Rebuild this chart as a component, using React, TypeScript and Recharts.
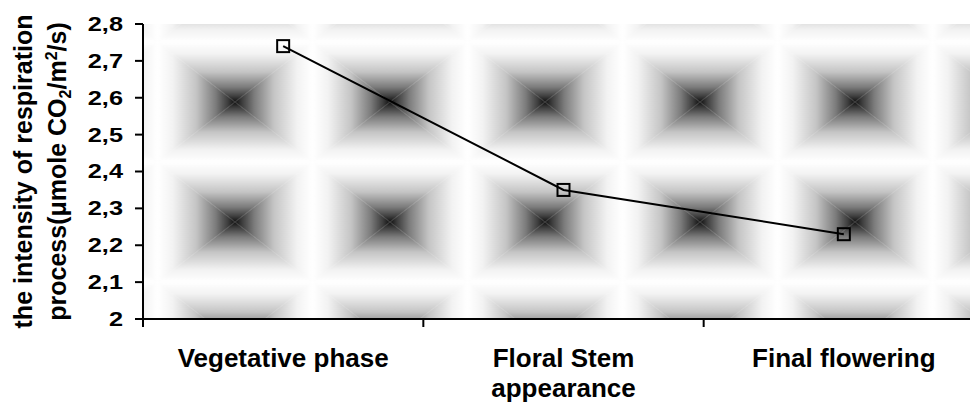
import { LineChart, Line, XAxis, YAxis, CartesianGrid } from 'recharts'

// ─── Data ─────────────────────────────────────────────────────────────────────

const phases = ['Vegetative phase', 'Floral Stem appearance', 'Final flowering']
const respiration = [2.74, 2.35, 2.23]
const yTicks = [2, 2.1, 2.2, 2.3, 2.4, 2.5, 2.6, 2.7, 2.8]

const chartData = phases.map((phase, i) => ({ phase, value: respiration[i] }))

const FONT = '"Liberation Sans", Arial, sans-serif'
const X_TICK_SIZE = 8
const X_TICK_MARGIN = 22

// ─── Ticks / labels ───────────────────────────────────────────────────────────

const fmt = (v: number) => String(v).replace('.', ',')

// greedy word wrap, Excel breaks the long category in two
function wrap(label: string, maxChars: number) {
  const lines: string[] = []
  let cur = ''
  for (const w of label.split(' ')) {
    if (cur && (cur + ' ' + w).length > maxChars) {
      lines.push(cur)
      cur = w
    } else {
      cur = cur ? cur + ' ' + w : w
    }
  }
  if (cur) lines.push(cur)
  return lines
}

function YTick({ x, y, payload }: any) {
  return (
    <text
      x={x}
      y={y}
      dy="0.355em"
      textAnchor="end"
      fontSize={19.5}
      fontWeight={700}
      fontFamily={FONT}
      fill="#000"
      transform={`translate(${x} 0) scale(1.3 1) translate(${-x} 0)`}
    >
      {fmt(payload.value)}
    </text>
  )
}

function XTick({ x, y, payload, index, width, visibleTicksCount }: any) {
  // tick marks sit between the categories, labels in the middle
  const half = width / visibleTicksCount / 2
  const axisY = y - X_TICK_SIZE - X_TICK_MARGIN
  const lines = wrap(payload.value, 16)
  return (
    <g>
      <line x1={x - half} x2={x - half} y1={axisY} y2={axisY + X_TICK_SIZE} stroke="#000" strokeWidth={2} />
      {index === visibleTicksCount - 1 && (
        <line x1={x + half} x2={x + half} y1={axisY} y2={axisY + X_TICK_SIZE} stroke="#000" strokeWidth={2} />
      )}
      <text x={x} y={y} textAnchor="middle" fontSize={26} fontWeight={700} fontFamily={FONT} fill="#000">
        {lines.map((l, i) => (
          <tspan key={i} x={x} dy={i === 0 ? '0.71em' : '1.12em'}>
            {l}
          </tspan>
        ))}
      </text>
    </g>
  )
}

function YLabel({ viewBox }: any) {
  const cy = viewBox.y + viewBox.height / 2
  const x1 = viewBox.x + 32
  const x2 = viewBox.x + 66
  const common = { fontSize: 25, fontWeight: 700, fontFamily: FONT, fill: '#000', textAnchor: 'middle' as const }
  return (
    <g>
      <text x={x1} y={cy} transform={`rotate(-90 ${x1} ${cy})`} {...common}>
        the intensity of respiration
      </text>
      <text x={x2} y={cy} transform={`rotate(-90 ${x2} ${cy})`} {...common}>
        <tspan>process(μmole CO</tspan>
        <tspan fontSize={16} dy={5}>2</tspan>
        <tspan dy={-5}>/m</tspan>
        <tspan fontSize={16} dy={-9}>2</tspan>
        <tspan dy={9}>/s)</tspan>
      </text>
    </g>
  )
}

function SquareDot({ cx, cy }: any) {
  return <rect x={cx - 6} y={cy - 6} width={12} height={12} fill="none" stroke="#000" strokeWidth={2} />
}

// ─── Component ────────────────────────────────────────────────────────────────

const TW = 155
const TH = 120

function Ramp({ id, x1, y1, x2, y2 }: any) {
  return (
    <linearGradient id={id} gradientUnits="userSpaceOnUse" x1={x1} y1={y1} x2={x2} y2={y2}>
      <stop offset="0" stopColor="#ffffff" />
      <stop offset="0.2" stopColor="#f2f2f2" />
      <stop offset="0.5" stopColor="#c4c4c4" />
      <stop offset="0.75" stopColor="#7c7c7c" />
      <stop offset="0.9" stopColor="#404040" />
      <stop offset="1" stopColor="#111111" />
    </linearGradient>
  )
}

export default function App() {
  return (
    <div style={{ position: 'absolute', left: 0, top: 0, width: 970, height: 405, overflow: 'hidden', background: '#fff' }}>
      <LineChart width={984} height={405} data={chartData} margin={{ top: 24, right: 0, bottom: 0, left: 0 }}>
        <defs>
          <Ramp id="gT" x1={0} y1={0} x2={0} y2={TH / 2} />
          <Ramp id="gB" x1={0} y1={TH} x2={0} y2={TH / 2} />
          <Ramp id="gL" x1={0} y1={0} x2={TW / 2} y2={0} />
          <Ramp id="gR" x1={TW} y1={0} x2={TW / 2} y2={0} />
          <pattern id="bg" patternUnits="userSpaceOnUse" x={157.5} y={42} width={TW} height={TH}>
            <polygon points={`0,0 ${TW},0 ${TW / 2},${TH / 2}`} fill="url(#gT)" />
            <polygon points={`0,${TH} ${TW},${TH} ${TW / 2},${TH / 2}`} fill="url(#gB)" />
            <polygon points={`0,0 0,${TH} ${TW / 2},${TH / 2}`} fill="url(#gL)" />
            <polygon points={`${TW},0 ${TW},${TH} ${TW / 2},${TH / 2}`} fill="url(#gR)" />
          </pattern>
        </defs>
        <CartesianGrid horizontal={false} vertical={false} fill="url(#bg)" fillOpacity={1} stroke="none" />
        <XAxis
          dataKey="phase"
          scale="band"
          height={86}
          interval={0}
          axisLine={{ stroke: '#000', strokeWidth: 2 }}
          tickLine={false}
          tickSize={X_TICK_SIZE}
          tickMargin={X_TICK_MARGIN}
          tick={<XTick />}
        />
        <YAxis
          width={143}
          domain={[2, 2.8]}
          ticks={yTicks}
          interval={0}
          axisLine={{ stroke: '#000', strokeWidth: 2 }}
          tickLine={{ stroke: '#000', strokeWidth: 2 }}
          tickSize={8}
          tickMargin={12}
          tick={<YTick />}
          label={<YLabel />}
        />
        <Line
          type="linear"
          dataKey="value"
          stroke="#000"
          strokeWidth={2}
          dot={<SquareDot />}
          activeDot={false}
          isAnimationActive={false}
        />
      </LineChart>
    </div>
  )
}
